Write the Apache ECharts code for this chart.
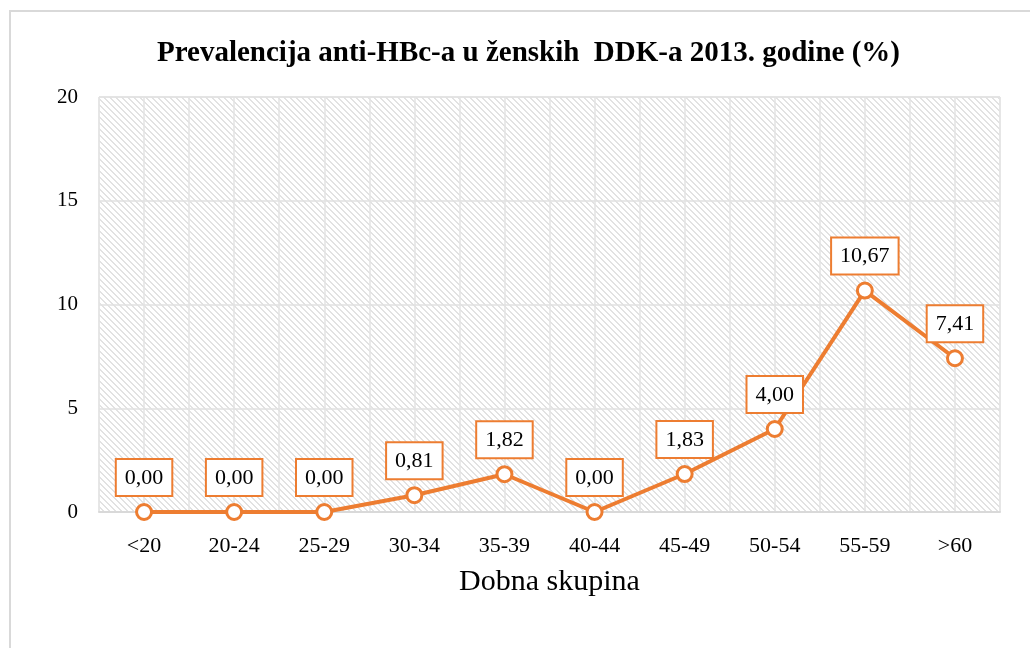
<!DOCTYPE html>
<html lang="hr">
<head>
    <meta charset="UTF-8" />
    <title>Prevalencija anti-HBc</title>
    <script src="https://cdn.jsdelivr.net/npm/echarts@6/dist/echarts.min.js"></script>
    <style>
        html, body { margin: 0; padding: 0; background: #fff; }
    </style>
</head>
<body>
<div id="main" style="width: 1030px; height: 648px;"></div>
<script type="text/javascript">
    // podaci
    var categories = ['<20', '20-24', '25-29', '30-34', '35-39', '40-44', '45-49', '50-54', '55-59', '>60'];
    var values = [0.00, 0.00, 0.00, 0.81, 1.82, 0.00, 1.83, 4.00, 10.67, 7.41];
    var yTicks = [0, 5, 10, 15, 20];

    var serif = '"Liberation Serif", "DejaVu Serif", serif';
    var orange = '#ed7d31';

    // uzorak dijagonalnih crta za pozadinu grafa
    function makeHatch() {
        var n = 6;
        var c = document.createElement('canvas');
        c.width = n; c.height = n;
        var ctx = c.getContext('2d');
        ctx.fillStyle = '#ffffff';
        ctx.fillRect(0, 0, n, n);
        ctx.fillStyle = '#e2e2e2';
        for (var i = 0; i < n; i++) {
            ctx.fillRect(i, i, 1, 1);
            ctx.fillRect((i + 1) % n, i, 1, 1);
        }
        return c;
    }

    var myChart = echarts.init(document.getElementById('main'));

    var option = {
        animation: false,
        backgroundColor: '#fff',
        title: {
            text: 'Prevalencija anti-HBc-a u ženskih  DDK-a 2013. godine (%)',
            left: 152,
            top: 34,
            textStyle: { fontFamily: serif, fontSize: 29, fontWeight: 'bold', color: '#000' }
        },
        graphic: [{
            type: 'rect',
            shape: { x: 10, y: 11, width: 1040, height: 700 },
            style: { fill: 'none', stroke: '#d9d9d9', lineWidth: 2 },
            z: -1
        }],
        grid: {
            left: 99, right: 30, top: 97, bottom: 136,
            show: true,
            backgroundColor: { image: makeHatch(), repeat: 'repeat' },
            borderColor: '#e0e0e0',
            borderWidth: 1
        },
        xAxis: [{
            type: 'category',
            data: categories,
            boundaryGap: true,
            name: 'Dobna skupina',
            nameLocation: 'middle',
            nameGap: 55,
            nameTextStyle: { fontFamily: serif, fontSize: 30, color: '#000' },
            axisLine: { show: true, lineStyle: { color: '#d9d9d9', width: 2 } },
            axisTick: { show: false },
            axisLabel: { fontFamily: serif, fontSize: 22, color: '#000', margin: 23 },
            splitLine: { show: false }
        }, {
            type: 'value',
            min: 0, max: categories.length * 2, interval: 1,
            show: true,
            position: 'bottom',
            axisLine: { show: false },
            axisTick: { show: false },
            axisLabel: { show: false },
            splitLine: { show: true, lineStyle: { color: '#e3e3e3', width: 1.5 } }
        }],
        yAxis: {
            type: 'value',
            min: yTicks[0],
            max: yTicks[yTicks.length - 1],
            interval: 5,
            axisLine: { show: false },
            axisTick: { show: false },
            axisLabel: { fontFamily: serif, fontSize: 21, color: '#000', margin: 21 },
            splitLine: { show: true, lineStyle: { color: '#e0e0e0', width: 1.5 } }
        },
        series: [{
            type: 'line',
            data: values,
            xAxisIndex: 0,
            symbol: 'circle',
            symbolSize: 15,
            lineStyle: { color: orange, width: 4 },
            itemStyle: { color: '#fff', borderColor: orange, borderWidth: 3 },
            label: {
                show: true,
                position: 'top',
                distance: 8,
                formatter: function (p) { return p.value.toFixed(2).replace('.', ','); },
                fontFamily: serif,
                fontSize: 22,
                lineHeight: 24,
                color: '#000',
                backgroundColor: '#fff',
                borderColor: orange,
                borderWidth: 2,
                padding: [6, 8, 5, 8]
            },
            z: 5
        }]
    };

    myChart.setOption(option);
</script>
</body>
</html>
